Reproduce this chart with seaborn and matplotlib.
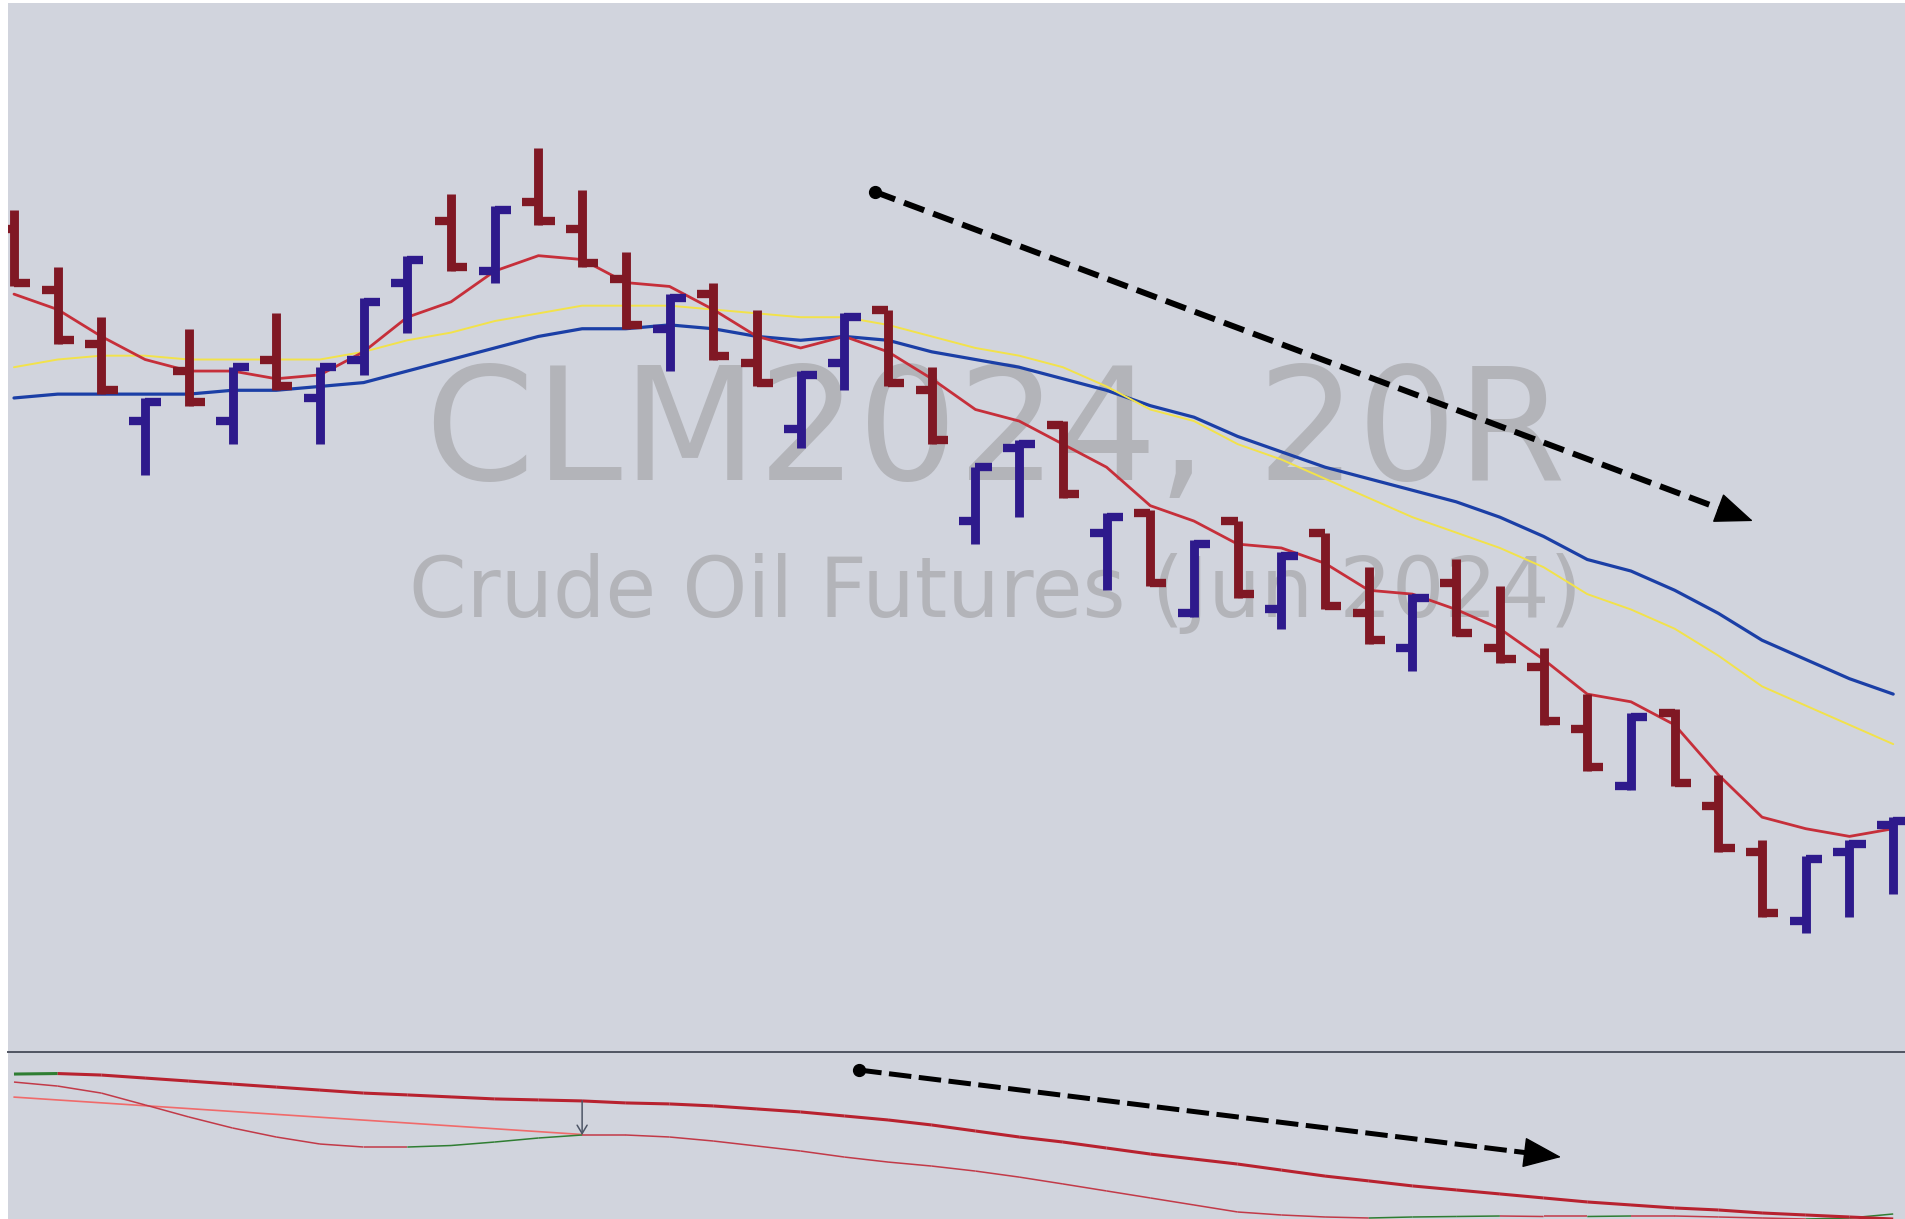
import numpy as np
import matplotlib
matplotlib.use("Agg")
import matplotlib.pyplot as plt
import seaborn as sns

# 20-tick range bars, CLM2024
opens = [83.29, 83.13, 82.99, 82.79, 82.92, 82.79, 82.95, 82.85, 82.95, 83.15,
         83.31, 83.18, 83.36, 83.29, 83.16, 83.03, 83.12, 82.94, 82.77, 82.94,
         83.08, 82.87, 82.53, 82.72, 82.78, 82.50, 82.55, 82.29, 82.53, 82.30,
         82.50, 82.29, 82.20, 82.37, 82.20, 82.15, 81.99, 81.84, 82.03, 81.79,
         81.67, 81.49, 81.67, 81.74]
highs = [83.34, 83.19, 83.06, 82.85, 83.03, 82.93, 83.07, 82.93, 83.11, 83.22,
         83.38, 83.35, 83.50, 83.39, 83.23, 83.12, 83.15, 83.08, 82.92, 83.07,
         83.08, 82.93, 82.67, 82.74, 82.79, 82.55, 82.56, 82.48, 82.53, 82.45,
         82.50, 82.41, 82.34, 82.43, 82.36, 82.20, 82.08, 82.03, 82.04, 81.87,
         81.70, 81.66, 81.70, 81.76]
lows = [83.14, 82.99, 82.86, 82.65, 82.83, 82.73, 82.87, 82.73, 82.91, 83.02,
        83.18, 83.15, 83.30, 83.19, 83.03, 82.92, 82.95, 82.88, 82.72, 82.87,
        82.88, 82.73, 82.47, 82.54, 82.59, 82.35, 82.36, 82.28, 82.33, 82.25,
        82.30, 82.21, 82.14, 82.23, 82.16, 82.00, 81.88, 81.83, 81.84, 81.67,
        81.50, 81.46, 81.50, 81.56]
closes = [83.15, 83.00, 82.87, 82.84, 82.84, 82.93, 82.88, 82.93, 83.10, 83.21,
          83.19, 83.34, 83.31, 83.20, 83.04, 83.11, 82.96, 82.89, 82.91, 83.06,
          82.89, 82.74, 82.67, 82.73, 82.60, 82.54, 82.37, 82.47, 82.34, 82.44,
          82.31, 82.22, 82.33, 82.24, 82.17, 82.01, 81.89, 82.02, 81.85, 81.68,
          81.51, 81.65, 81.69, 81.75]

# moving averages
ma_fast = [83.12, 83.08, 83.01, 82.95, 82.92, 82.92, 82.90, 82.91, 82.97, 83.06,
           83.10, 83.18, 83.22, 83.21, 83.15, 83.14, 83.08, 83.01, 82.98, 83.01,
           82.97, 82.90, 82.82, 82.79, 82.73, 82.67, 82.57, 82.53, 82.47, 82.46,
           82.42, 82.35, 82.34, 82.30, 82.25, 82.17, 82.08, 82.06, 82.00, 81.87,
           81.76, 81.73, 81.71, 81.73]
ma_mid = [82.93, 82.95, 82.96, 82.96, 82.95, 82.95, 82.95, 82.95, 82.97, 83.00,
          83.02, 83.05, 83.07, 83.09, 83.09, 83.09, 83.08, 83.07, 83.06, 83.06,
          83.04, 83.01, 82.98, 82.96, 82.93, 82.88, 82.82, 82.79, 82.73, 82.69,
          82.64, 82.59, 82.54, 82.50, 82.46, 82.41, 82.34, 82.30, 82.25, 82.18,
          82.10, 82.05, 82.00, 81.95]
ma_slow = [82.85, 82.86, 82.86, 82.86, 82.86, 82.87, 82.87, 82.88, 82.89, 82.92,
           82.95, 82.98, 83.01, 83.03, 83.03, 83.04, 83.03, 83.01, 83.00, 83.01,
           83.00, 82.97, 82.95, 82.93, 82.90, 82.87, 82.83, 82.80, 82.75, 82.71,
           82.67, 82.64, 82.61, 82.58, 82.54, 82.49, 82.43, 82.40, 82.35, 82.29,
           82.22, 82.17, 82.12, 82.08]

# lower pane oscillator
osc_signal = [86.8, 87.1, 86.2, 84.4, 82.6, 80.8, 79.0, 77.2, 75.4, 74.3,
              73.1, 71.9, 71.3, 70.7, 69.5, 68.9, 67.7, 65.9, 64.1, 61.7,
              59.3, 56.3, 52.7, 49.1, 46.1, 42.5, 38.9, 35.9, 32.9, 29.3,
              25.7, 22.8, 19.8, 17.4, 15.0, 12.6, 10.2, 8.4, 6.6, 5.4,
              3.6, 2.4, 1.2, 0.0]
osc_line = [82.0, 79.6, 75.4, 68.3, 61.1, 54.5, 49.1, 44.9, 43.1, 43.1,
            44.0, 46.1, 48.5, 50.3, 50.3, 49.1, 46.7, 43.7, 40.7, 37.1,
            34.1, 31.7, 28.7, 25.1, 21.0, 16.8, 12.6, 8.4, 4.2, 2.4,
            1.2, 0.6, 1.2, 1.5, 1.8, 1.5, 1.5, 1.8, 1.8, 1.2,
            0.6, 0.0, 0.6, 3.0]
div_bars = [0, 13]
div_vals = [73.0, 50.6]

# annotation arrows (bar index, value)
main_arrow = ((19.70, 83.386), (39.79, 82.53))
osc_arrow = ((19.34, 89.2), (35.4, 37.1))

BG = "#d1d4dd"
UP_BAR = "#2e1a8c"
DN_BAR = "#801824"

sns.set_theme(style="white")
plt.rcParams["font.family"] = ["DejaVu Sans"]

fig = plt.figure(figsize=(19.05, 12.19), dpi=100)
fig.patch.set_facecolor("white")
left = 8 / 1905
ax = fig.add_axes([left, 1 - 1051 / 1219, 1 - left, 1048 / 1219])
ax2 = fig.add_axes([left, 0, 1 - left, 1 - 1052 / 1219])

x = np.arange(len(opens))
for a in (ax, ax2):
    a.set_facecolor(BG)
    a.set_xticks([])
    a.set_yticks([])
    for s in a.spines.values():
        s.set_visible(False)
    a.set_xlim(-0.137, 43.27)
ax2.spines["top"].set_visible(True)
ax2.spines["top"].set_color("#4f5461")
ax2.spines["top"].set_linewidth(1.4)
ax.set_ylim(81.152, 83.877)
ax2.set_ylim(0, 100)

# watermark
ax.text(0.5203, 0.5448, "CLM2024, 20R", transform=ax.transAxes, ha="center",
        va="baseline", fontsize=113, color="#b3b4b9", zorder=0)
ax.text(0.5203, 0.4141, "Crude Oil Futures (Jun 2024)", transform=ax.transAxes,
        ha="center", va="baseline", fontsize=59.5, color="#b3b4b9", zorder=0)

# moving averages
sns.lineplot(x=x, y=ma_slow, ax=ax, color="#1b3fa6", lw=2.3, sort=False,
             estimator=None, legend=False, zorder=2)
sns.lineplot(x=x, y=ma_mid, ax=ax, color="#f2e24a", lw=1.4, sort=False,
             estimator=None, legend=False, zorder=2)
sns.lineplot(x=x, y=ma_fast, ax=ax, color="#c62f3a", lw=2.0, sort=False,
             estimator=None, legend=False, zorder=2)

# OHLC bars
o = np.array(opens)
c = np.array(closes)
cols = np.where(c > o, UP_BAR, DN_BAR)
ax.vlines(x, lows, highs, colors=cols, lw=6.4, capstyle="butt", zorder=3)
ax.hlines(o, x - 0.37, x, colors=cols, lw=6.0, capstyle="butt", zorder=3)
ax.hlines(c, x, x + 0.37, colors=cols, lw=6.0, capstyle="butt", zorder=3)


def dashed_arrow(a, start, end, lw, dashes, head_frac):
    p0 = np.array(start)
    p1 = np.array(end)
    base = p1 - (p1 - p0) * head_frac
    a.plot([p0[0]], [p0[1]], "o", color="black", ms=8.5, zorder=5)
    a.plot([p0[0], base[0]], [p0[1], base[1]], color="black", lw=lw,
           dashes=dashes, solid_capstyle="butt", dash_capstyle="butt", zorder=5)
    a.annotate("", xy=tuple(p1), xytext=tuple(base), zorder=6,
               arrowprops=dict(arrowstyle="-|>,head_length=1.25,head_width=0.5",
                               color="black", lw=1, mutation_scale=20,
                               shrinkA=0, shrinkB=0))


dashed_arrow(ax, main_arrow[0], main_arrow[1], 4.3, (3.6, 1.6), 0.03)


def two_tone(a, xs, vs, lw, up_c, dn_c):
    steps = np.diff(vs)
    for i, s in enumerate(steps):
        a.plot(xs[i:i + 2], vs[i:i + 2], color=up_c if s > 0 else dn_c,
               lw=lw, solid_capstyle="butt", zorder=2)


# lower pane
sns.lineplot(x=div_bars, y=div_vals, ax=ax2, color="#f06a6a", lw=1.2,
             legend=False, zorder=2)
two_tone(ax2, x, osc_line, 1.1, "#2f7d32", "#c23a48")
two_tone(ax2, x, osc_signal, 2.2, "#2f7d32", "#b8222f")
k = div_bars[1]
ax2.annotate("", xy=(k, osc_line[k]), xytext=(k, osc_signal[k]), zorder=4,
             arrowprops=dict(arrowstyle="->,head_length=0.5,head_width=0.3",
                             color="#4d5566", lw=1.1, shrinkA=0, shrinkB=0))
dashed_arrow(ax2, osc_arrow[0], osc_arrow[1], 3.6, (4.5, 1.5), 0.04)

fig.savefig("out.png", dpi=100, facecolor="white")
